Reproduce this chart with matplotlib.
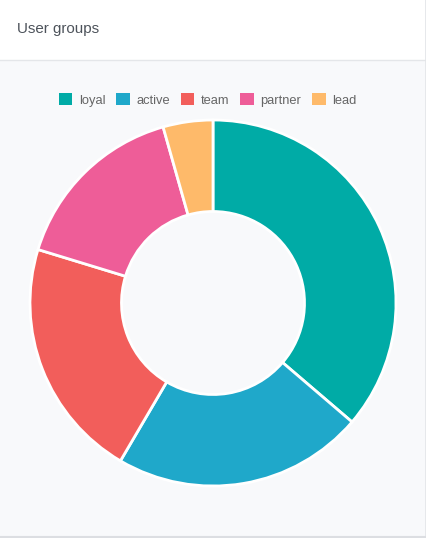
import matplotlib
matplotlib.use("Agg")
import matplotlib.pyplot as plt
from matplotlib.patches import Rectangle, Patch

groups = ["loyal", "active", "team", "partner", "lead"]
shares = [36.3, 22.2, 21.3, 15.9, 4.4]
colors = ["#00aba6", "#1fa8ca", "#f25e5b", "#ee5d98", "#feba6a"]

W, H = 427, 538
plt.rcParams['font.family'] = ['Liberation Sans', 'DejaVu Sans']

fig = plt.figure(figsize=(W / 100, H / 100), dpi=100)
fig.patch.set_facecolor("white")

# card background in pixel coords
bg = fig.add_axes([0, 0, 1, 1])
bg.set_xlim(0, W)
bg.set_ylim(H, 0)
bg.axis("off")
bg.add_patch(Rectangle((0, 60), W - 1.5, H - 62, facecolor="#f8f9fb", edgecolor="none"))
bg.plot([0, W - 1.5], [60, 60], color="#e4e6e9", linewidth=1)
bg.plot([W - 1, W - 1], [0, H - 1.5], color="#e2e4e7", linewidth=1.2)
bg.plot([0, W - 1], [H - 1.5, H - 1.5], color="#dcdee2", linewidth=1.5)
bg.text(17, 29, "User groups", fontsize=10.9, color="#4d535b", va="center", ha="left")

# donut
cx, cy, R = 213, 303, 183
ax = fig.add_axes([(cx - R) / W, (H - cy - R) / H, 2 * R / W, 2 * R / H])
ax.pie(shares, colors=colors, startangle=90, counterclock=False, radius=1,
       wedgeprops=dict(width=0.5, edgecolor="white", linewidth=2))
ax.set_xlim(-1, 1)
ax.set_ylim(-1, 1)
ax.axis("off")

handles = [Patch(facecolor=c, edgecolor="none", label=g) for g, c in zip(groups, colors)]
fig.legend(handles=handles, loc="center", bbox_to_anchor=(207.5 / W, 1 - 100 / H), ncol=5,
           frameon=False, fontsize=9.3, labelcolor="#666666", handlelength=1.05, handleheight=1.05,
           handletextpad=0.5, columnspacing=0.85, borderaxespad=0)

fig.savefig("out.png", dpi=100)
